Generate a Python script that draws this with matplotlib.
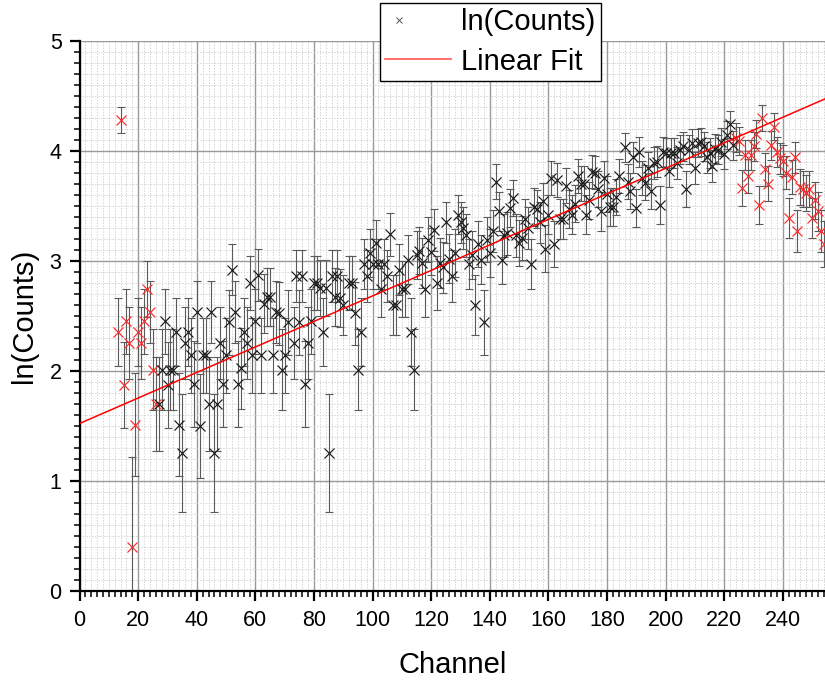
import numpy as np
import matplotlib
matplotlib.use("Agg")
import matplotlib.pyplot as plt
from matplotlib.lines import Line2D
from matplotlib.ticker import MultipleLocator
from matplotlib.legend_handler import HandlerLine2D

plt.rcParams['font.family'] = ['Liberation Sans', 'DejaVu Sans']

# ---- data ----
# channels outside the fit range (red)
ch_low = [13, 14, 15, 16, 17, 18, 19, 20, 21, 22, 23, 24, 25, 26]
ln_low = [2.35, 4.28, 1.87, 2.45, 2.25, 0.40, 1.51, 2.35, 2.25, 2.45, 2.74, 2.53, 2.01, 1.70]

# channels inside the fit range (black)
ch_fit = [27, 28, 29, 30, 31, 32, 33, 34, 35, 36, 37, 38, 39, 40, 41, 42, 43, 44, 45, 46,
          47, 48, 49, 50, 51, 52, 53, 54, 55, 56, 57, 58, 59, 60, 61, 62, 63, 64, 65, 66,
          67, 68, 69, 70, 71, 73, 74, 75, 76, 77, 78, 79, 80, 81, 82, 83, 84, 85, 86, 87,
          88, 89, 90, 92, 93, 94, 95, 96, 97, 98, 99, 100, 101, 102, 103, 104, 105, 106, 107, 108,
          109, 110, 111, 112, 113, 114, 115, 116, 117, 118, 119, 120, 121, 122, 123, 124, 125, 126, 127, 128,
          129, 130, 131, 132, 133, 134, 135, 136, 137, 138, 139, 140, 141, 142, 143, 144, 145, 146, 147, 148,
          149, 150, 151, 152, 153, 154, 155, 156, 157, 158, 159, 160, 161, 162, 163, 164, 165, 166, 167, 168,
          169, 170, 171, 172, 173, 174, 175, 176, 177, 178, 179, 180, 181, 182, 183, 184, 186, 187, 188, 189,
          190, 191, 192, 193, 194, 195, 196, 197, 198, 199, 200, 201, 202, 203, 204, 205, 206, 207, 208, 209,
          210, 211, 212, 213, 214, 215, 216, 217, 218, 219, 220, 221, 222, 223]
ln_fit = [1.70, 2.01, 2.45, 1.87, 2.01, 2.01, 2.35, 1.51, 1.25, 2.25, 2.35, 2.14, 1.88, 2.53, 1.50, 2.14, 2.14, 1.70, 2.53, 1.25,
          1.70, 2.25, 1.88, 2.14, 2.44, 2.92, 2.53, 1.88, 2.02, 2.35, 2.25, 2.80, 2.14, 2.45, 2.87, 2.14, 2.61, 2.67, 2.67, 2.14,
          2.53, 2.52, 2.01, 2.14, 2.44, 2.25, 2.86, 2.44, 2.86, 1.88, 2.25, 2.45, 2.80, 2.80, 2.75, 2.35, 2.75, 1.25, 2.86, 2.67,
          2.86, 2.66, 2.60, 2.80, 2.80, 2.52, 2.01, 2.35, 2.97, 2.86, 3.07, 2.97, 3.16, 2.97, 2.74, 2.97, 2.86, 3.24, 2.60, 2.60,
          2.92, 2.74, 2.74, 3.01, 2.35, 2.01, 3.05, 3.09, 2.98, 2.74, 3.19, 3.08, 3.28, 2.80, 2.98, 2.94, 3.35, 3.02, 2.86, 3.07,
          3.42, 3.35, 3.30, 3.23, 2.97, 3.05, 2.60, 3.15, 3.01, 2.44, 3.19, 3.07, 3.27, 3.72, 3.45, 3.01, 3.23, 3.25, 3.48, 3.57,
          3.23, 3.16, 3.21, 3.38, 3.30, 2.97, 3.49, 3.47, 3.35, 3.54, 3.11, 3.42, 3.75, 3.15, 3.73, 3.38, 3.38, 3.68, 3.47, 3.42,
          3.52, 3.77, 3.70, 3.70, 3.42, 3.55, 3.81, 3.80, 3.65, 3.45, 3.75, 3.61, 3.49, 3.49, 3.58, 3.77, 4.03, 3.72, 3.63, 3.94,
          3.48, 3.99, 3.75, 3.71, 3.84, 3.63, 3.89, 3.90, 3.51, 3.99, 3.98, 3.82, 3.98, 3.98, 3.89, 4.01, 4.04, 3.65, 4.01, 4.07,
          3.84, 4.07, 4.08, 4.04, 3.94, 3.98, 3.86, 4.02, 4.01, 4.08, 3.97, 4.14, 4.24, 4.05]

# channels above the fit range (red)
ch_high = [224, 225, 226, 227, 228, 229, 230, 231, 232, 233, 234, 235, 236, 237, 238, 239, 240, 241, 242, 243,
           244, 245, 246, 247, 248, 249, 250, 251, 252, 253, 254]
ln_high = [4.12, 4.09, 3.66, 3.96, 3.77, 3.96, 4.04, 4.15, 3.51, 4.30, 3.83, 3.70, 4.05, 4.22, 3.99, 3.93, 3.91, 3.80, 3.39, 3.76,
           3.94, 3.27, 3.67, 3.65, 3.62, 3.65, 3.39, 3.55, 3.45, 3.27, 3.15]

# linear fit parameters
fit_intercept = 1.52
fit_slope = 0.01160

x_ticks = [0, 20, 40, 60, 80, 100, 120, 140, 160, 180, 200, 220, 240]
y_ticks = [0, 1, 2, 3, 4, 5]

# ---- figure ----
fig = plt.figure(figsize=(8.25, 6.82), dpi=100)
ax = fig.add_axes([0.0965, 0.1339, 0.9035, 0.8064])

XMAX = 254.4
ax.set_xlim(0, XMAX)
ax.set_ylim(0, 5)

ax.xaxis.set_minor_locator(MultipleLocator(2))
ax.yaxis.set_minor_locator(MultipleLocator(0.1))
ax.set_xticks(x_ticks)
ax.set_yticks(y_ticks)

ax.grid(which='minor', color='#d4d4d4', linestyle=(0, (1.5, 1.5)), linewidth=0.7, zorder=0)
ax.grid(which='major', color='#9a9a9a', linestyle='-', linewidth=1.0, zorder=0.5)
ax.set_axisbelow(True)

def errs(v):
    v = np.asarray(v, dtype=float)
    return 1.0 / np.sqrt(np.exp(v))

eb_kw = dict(fmt='none', ecolor='#5a5a5a', elinewidth=0.8, capsize=3.2, capthick=0.8, zorder=2)
for chs, vals in ((ch_low, ln_low), (ch_fit, ln_fit), (ch_high, ln_high)):
    ax.errorbar(chs, vals, yerr=errs(vals), **eb_kw)

mk_kw = dict(linestyle='none', marker='x', markersize=6.8, markeredgewidth=0.85, zorder=3)
ax.plot(ch_low, ln_low, color='#ff2a2a', **mk_kw)
ax.plot(ch_high, ln_high, color='#ff2a2a', **mk_kw)
ax.plot(ch_fit, ln_fit, color='#1a1a1a', **mk_kw)

xf = np.array([0, XMAX])
ax.plot(xf, fit_intercept + fit_slope * xf, color='#ff0000', linewidth=1.1, zorder=4, clip_on=True)

for s in ('top', 'right'):
    ax.spines[s].set_visible(False)
for s in ('left', 'bottom'):
    ax.spines[s].set_linewidth(1.6)
    ax.spines[s].set_color('black')

ax.tick_params(which='major', direction='out', length=7, width=1.6, labelsize=15.5)
ax.tick_params(axis='x', which='major', pad=7)
ax.tick_params(axis='y', which='major', pad=6)
ax.tick_params(which='minor', direction='out', length=4, width=1.1)

ax.set_xlabel('Channel', fontsize=21, labelpad=14)
ax.set_ylabel('ln(Counts)', fontsize=21, labelpad=8)


class LeftMarkerHandler(HandlerLine2D):
    def create_artists(self, legend, orig_handle, xdescent, ydescent, width, height, fontsize, trans):
        arts = super().create_artists(legend, orig_handle, xdescent, ydescent, width, height, fontsize, trans)
        for a in arts:
            if a.get_marker() not in (None, 'None', '', ' '):
                a.set_xdata([-xdescent + 0.2 * width])
        return arts


h_pts = Line2D([], [], linestyle='none', marker='x', markersize=5, markeredgewidth=0.7, color='#555555')
h_fit = Line2D([], [], color='#ff5555', linewidth=1.2)
leg = fig.legend([h_pts, h_fit], ['ln(Counts)', 'Linear Fit'], loc='upper center',
                 bbox_to_anchor=(0.5945, 0.996), fontsize=21, frameon=True, fancybox=False,
                 framealpha=1, edgecolor='black', handlelength=2.25, handletextpad=0.35,
                 borderpad=0.18, labelspacing=0.4, borderaxespad=0,
                 handler_map={h_pts: LeftMarkerHandler(numpoints=1)})
leg.get_frame().set_linewidth(1.0)

fig.savefig('out.png', dpi=100)
